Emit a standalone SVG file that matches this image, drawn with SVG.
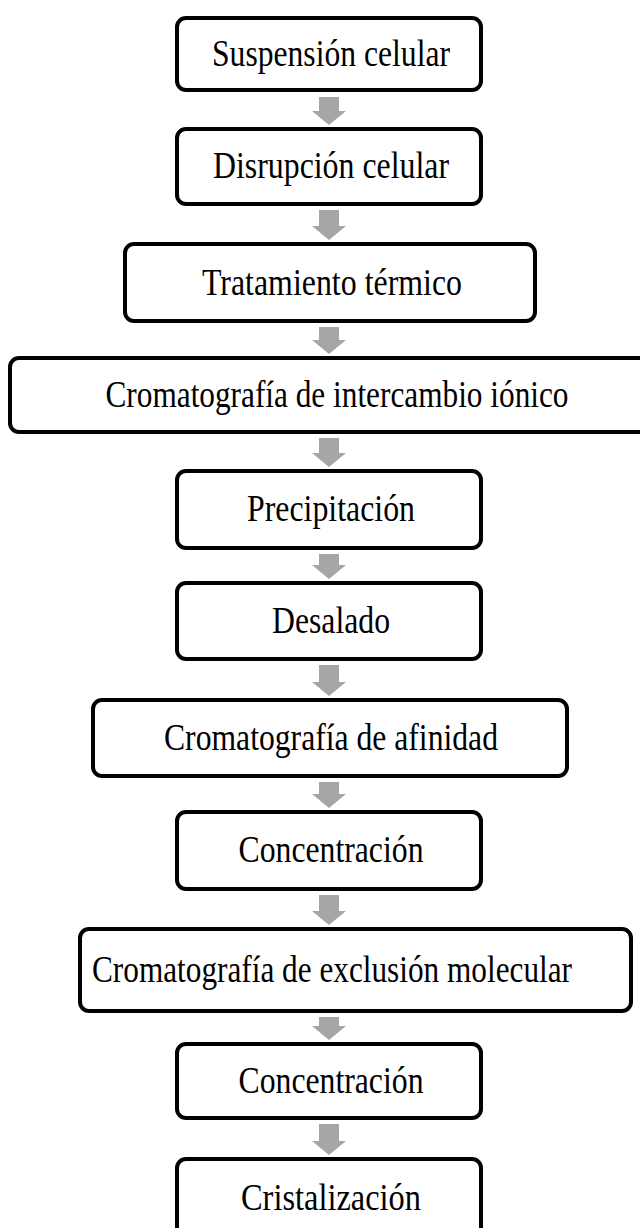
<svg xmlns="http://www.w3.org/2000/svg" width="640" height="1228" viewBox="0 0 640 1228">
<style>
.box{fill:#fff;stroke:#000;stroke-width:4}
.lbl{font-family:"Liberation Serif","Times New Roman",serif;font-size:38px;fill:#000;text-anchor:middle}
.arr{fill:#a6a6a6}
</style>
<rect width="640" height="1228" fill="#fff"/>
<g id="connectors">
<polygon class="arr" points="319,97 339,97 339,111 346,111 329,125 312,111 319,111"/>
<polygon class="arr" points="319,210 339,210 339,226 346,226 329,240 312,226 319,226"/>
<polygon class="arr" points="319,327 339,327 339,340 346,340 329,354 312,340 319,340"/>
<polygon class="arr" points="319,438 339,438 339,453 346,453 329,467 312,453 319,453"/>
<polygon class="arr" points="319,554 339,554 339,565 346,565 329,579 312,565 319,565"/>
<polygon class="arr" points="319,665 339,665 339,682 346,682 329,696 312,682 319,682"/>
<polygon class="arr" points="319,782 339,782 339,794 346,794 329,808 312,794 319,794"/>
<polygon class="arr" points="319,895 339,895 339,911 346,911 329,925 312,911 319,911"/>
<polygon class="arr" points="319,1017 339,1017 339,1026 346,1026 329,1040 312,1026 319,1026"/>
<polygon class="arr" points="319,1124 339,1124 339,1141 346,1141 329,1155 312,1141 319,1141"/>
</g>
<g id="n1"><rect class="box" x="177" y="18" width="304" height="72" rx="9"/><text class="lbl" x="331" y="66" textLength="238" lengthAdjust="spacingAndGlyphs">Suspensión celular</text></g>
<g id="n2"><rect class="box" x="177" y="129" width="304" height="75" rx="9"/><text class="lbl" x="331" y="178" textLength="236" lengthAdjust="spacingAndGlyphs">Disrupción celular</text></g>
<g id="n3"><rect class="box" x="125" y="244" width="410" height="77" rx="9"/><text class="lbl" x="332" y="295" textLength="260" lengthAdjust="spacingAndGlyphs">Tratamiento térmico</text></g>
<g id="n4"><rect class="box" x="10" y="358" width="680" height="74" rx="9"/><text class="lbl" x="337" y="407" textLength="463" lengthAdjust="spacingAndGlyphs">Cromatografía de intercambio iónico</text></g>
<g id="n5"><rect class="box" x="177" y="471" width="304" height="77" rx="9"/><text class="lbl" x="331" y="521" textLength="168" lengthAdjust="spacingAndGlyphs">Precipitación</text></g>
<g id="n6"><rect class="box" x="177" y="583" width="304" height="76" rx="9"/><text class="lbl" x="331" y="633" textLength="118" lengthAdjust="spacingAndGlyphs">Desalado</text></g>
<g id="n7"><rect class="box" x="93" y="700" width="474" height="76" rx="9"/><text class="lbl" x="331" y="750" textLength="334" lengthAdjust="spacingAndGlyphs">Cromatografía de afinidad</text></g>
<g id="n8"><rect class="box" x="177" y="812" width="304" height="77" rx="9"/><text class="lbl" x="331" y="862" textLength="185" lengthAdjust="spacingAndGlyphs">Concentración</text></g>
<g id="n9"><rect class="box" x="80" y="929" width="551" height="82" rx="9"/><text class="lbl" x="332" y="982" textLength="480" lengthAdjust="spacingAndGlyphs">Cromatografía de exclusión molecular</text></g>
<g id="n10"><rect class="box" x="177" y="1044" width="304" height="74" rx="9"/><text class="lbl" x="331" y="1093" textLength="185" lengthAdjust="spacingAndGlyphs">Concentración</text></g>
<g id="n11"><rect class="box" x="177" y="1159" width="304" height="78" rx="9"/><text class="lbl" x="331" y="1210" textLength="180" lengthAdjust="spacingAndGlyphs">Cristalización</text></g>
</svg>
